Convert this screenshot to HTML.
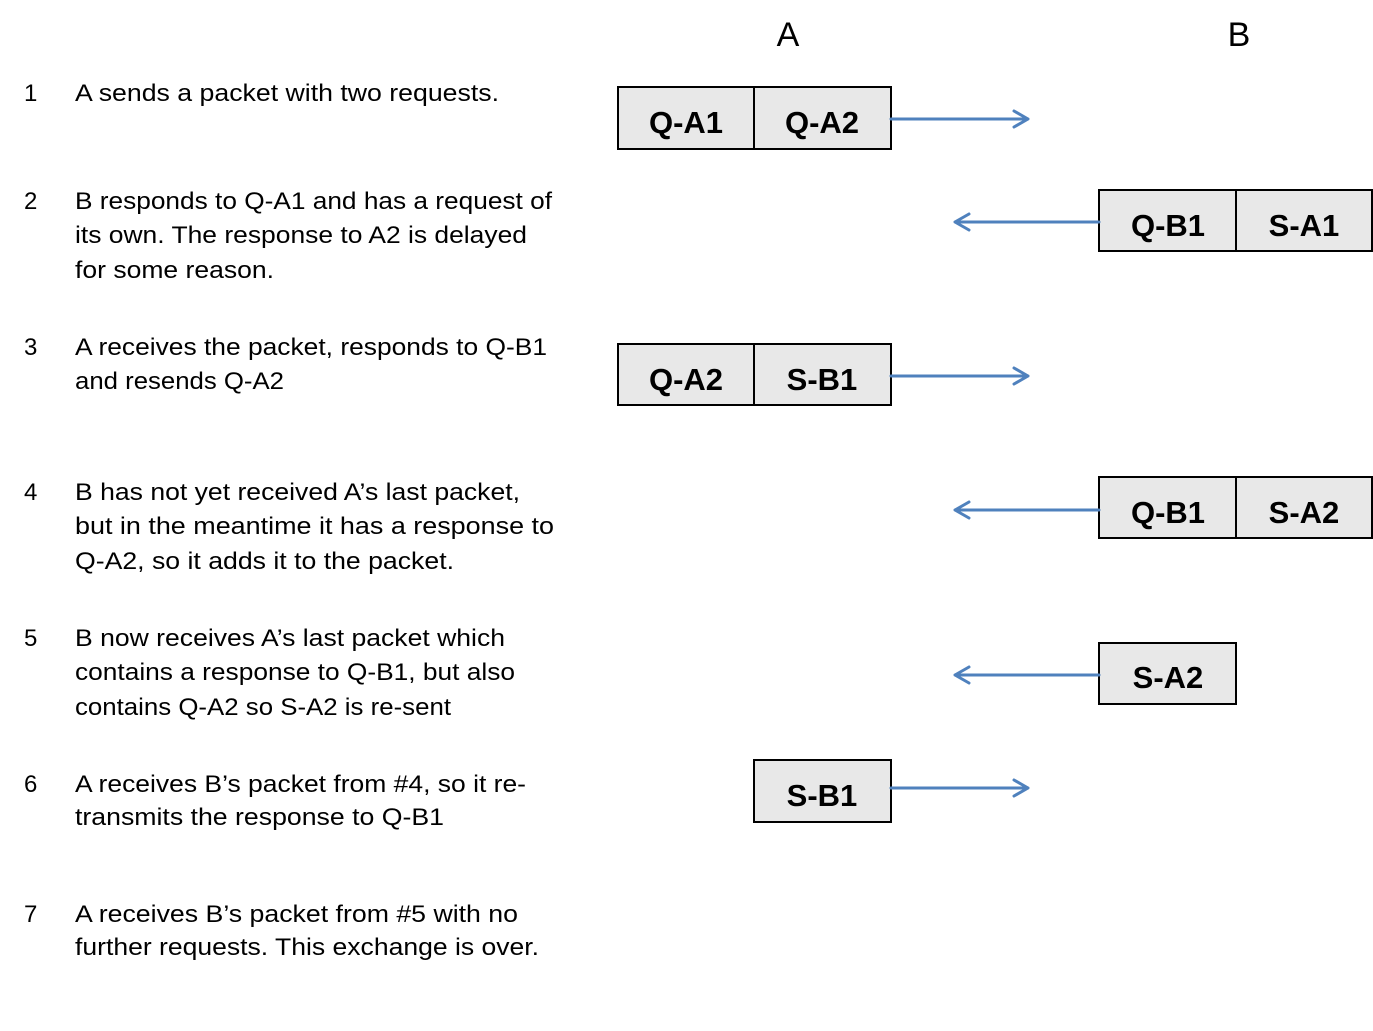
<!DOCTYPE html>
<html><head><meta charset="utf-8"><style>
html,body{margin:0;padding:0;background:#fff;}
svg{display:block;}
.t{font-family:"Liberation Sans",sans-serif;font-size:24px;fill:#000;}
.b{font-family:"Liberation Sans",sans-serif;font-size:31px;font-weight:bold;fill:#000;text-anchor:middle;}
.h{font-family:"Liberation Sans",sans-serif;font-size:34px;fill:#000;text-anchor:middle;}
.box{fill:#e8e8e8;stroke:#000;stroke-width:2;}
.ar{stroke:#4f81bd;stroke-width:3;fill:none;stroke-linecap:round;stroke-linejoin:round;}
</style></head><body>
<svg width="1373" height="1031" viewBox="0 0 1373 1031" xmlns="http://www.w3.org/2000/svg">
<text class="h" x="788" y="46">A</text>
<text class="h" x="1239" y="46">B</text>

<g class="t">
<text x="24" y="101">1</text>
<text x="75" y="101" textLength="424" lengthAdjust="spacingAndGlyphs">A sends a packet with two requests.</text>
<text x="24" y="209">2</text>
<text x="75" y="209" textLength="477" lengthAdjust="spacingAndGlyphs">B responds to Q-A1 and has a request of</text>
<text x="75" y="243" textLength="452" lengthAdjust="spacingAndGlyphs">its own. The response to A2 is delayed</text>
<text x="75" y="278" textLength="199" lengthAdjust="spacingAndGlyphs">for some reason.</text>
<text x="24" y="355">3</text>
<text x="75" y="355" textLength="472" lengthAdjust="spacingAndGlyphs">A receives the packet, responds to Q-B1</text>
<text x="75" y="389" textLength="209" lengthAdjust="spacingAndGlyphs">and resends Q-A2</text>
<text x="24" y="500">4</text>
<text x="75" y="500" textLength="445" lengthAdjust="spacingAndGlyphs">B has not yet received A’s last packet,</text>
<text x="75" y="534" textLength="479" lengthAdjust="spacingAndGlyphs">but in the meantime it has a response to</text>
<text x="75" y="569" textLength="379" lengthAdjust="spacingAndGlyphs">Q-A2, so it adds it to the packet.</text>
<text x="24" y="646">5</text>
<text x="75" y="646" textLength="430" lengthAdjust="spacingAndGlyphs">B now receives A’s last packet which</text>
<text x="75" y="680" textLength="440" lengthAdjust="spacingAndGlyphs">contains a response to Q-B1, but also</text>
<text x="75" y="715" textLength="376" lengthAdjust="spacingAndGlyphs">contains Q-A2 so S-A2 is re-sent</text>
<text x="24" y="792">6</text>
<text x="75" y="792" textLength="451" lengthAdjust="spacingAndGlyphs">A receives B’s packet from #4, so it re-</text>
<text x="75" y="825" textLength="369" lengthAdjust="spacingAndGlyphs">transmits the response to Q-B1</text>
<text x="24" y="922">7</text>
<text x="75" y="922" textLength="443" lengthAdjust="spacingAndGlyphs">A receives B’s packet from #5 with no</text>
<text x="75" y="955" textLength="464" lengthAdjust="spacingAndGlyphs">further requests. This exchange is over.</text>
</g>

<rect class="box" x="618" y="87" width="136" height="62"/>
<rect class="box" x="754" y="87" width="137" height="62"/>
<text class="b" x="686" y="133">Q-A1</text>
<text class="b" x="822" y="133">Q-A2</text>
<path class="ar" d="M891 119 H1028 M1014 111 L1028 119 L1014 127"/>

<rect class="box" x="1099" y="190" width="137" height="61"/>
<rect class="box" x="1236" y="190" width="136" height="61"/>
<text class="b" x="1168" y="236">Q-B1</text>
<text class="b" x="1304" y="236">S-A1</text>
<path class="ar" d="M1099 222 H955 M969 214 L955 222 L969 230"/>

<rect class="box" x="618" y="344" width="136" height="61"/>
<rect class="box" x="754" y="344" width="137" height="61"/>
<text class="b" x="686" y="390">Q-A2</text>
<text class="b" x="822" y="390">S-B1</text>
<path class="ar" d="M891 376 H1028 M1014 368 L1028 376 L1014 384"/>

<rect class="box" x="1099" y="477" width="137" height="61"/>
<rect class="box" x="1236" y="477" width="136" height="61"/>
<text class="b" x="1168" y="523">Q-B1</text>
<text class="b" x="1304" y="523">S-A2</text>
<path class="ar" d="M1099 510 H955 M969 502 L955 510 L969 518"/>

<rect class="box" x="1099" y="643" width="137" height="61"/>
<text class="b" x="1168" y="688">S-A2</text>
<path class="ar" d="M1099 675 H955 M969 667 L955 675 L969 683"/>

<rect class="box" x="754" y="760" width="137" height="62"/>
<text class="b" x="822" y="806">S-B1</text>
<path class="ar" d="M891 788 H1028 M1014 780 L1028 788 L1014 796"/>
</svg>
</body></html>
